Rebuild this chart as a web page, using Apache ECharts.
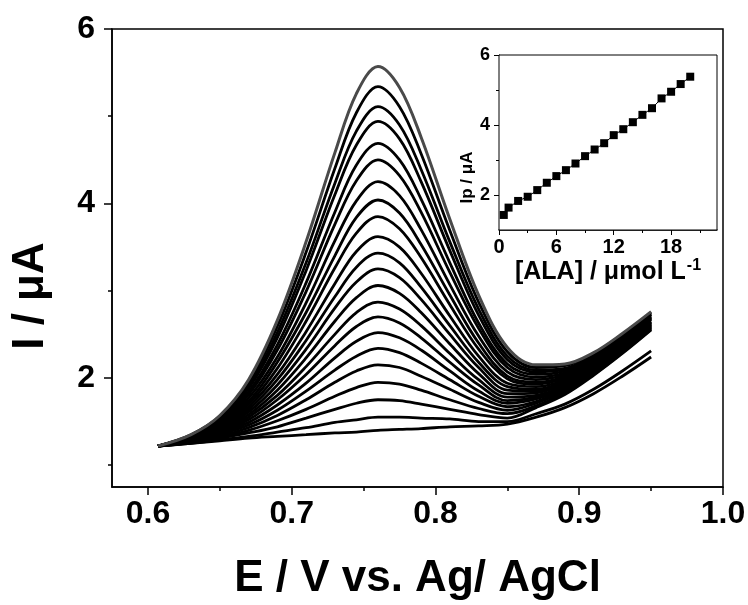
<!DOCTYPE html>
<html><head><meta charset="utf-8">
<script src="https://cdn.jsdelivr.net/npm/echarts@6/dist/echarts.min.js"></script>
<style>html,body{margin:0;padding:0;background:#fff}#c{width:748px;height:605px}</style>
</head><body><div id="c"></div>
<script>
// ---------- data ----------
const potentials = [0.607,0.63,0.65,0.67,0.69,0.71,0.73,0.745,0.76,0.775,0.79,0.81,0.83,0.85,0.87,0.89,0.91,0.93,0.95];
const curve00 = [1.22,1.25,1.28,1.31,1.33,1.35,1.37,1.38,1.40,1.41,1.42,1.44,1.45,1.47,1.55,1.66,1.82,2.02,2.24];
const curve01 = [1.22,1.25,1.29,1.33,1.38,1.43,1.49,1.52,1.55,1.55,1.54,1.53,1.50,1.50,1.59,1.70,1.87,2.08,2.31];
const curve02 = [1.22,1.26,1.31,1.37,1.44,1.54,1.64,1.71,1.75,1.74,1.70,1.64,1.58,1.54,1.66,1.81,2.03,2.28,2.55];
const curve03 = [1.22,1.26,1.32,1.40,1.51,1.64,1.79,1.89,1.95,1.93,1.86,1.75,1.65,1.59,1.68,1.83,2.04,2.29,2.56];
const curve04 = [1.22,1.27,1.33,1.43,1.57,1.75,1.95,2.08,2.15,2.12,2.02,1.87,1.72,1.63,1.71,1.85,2.05,2.31,2.57];
const curve05 = [1.22,1.27,1.35,1.46,1.63,1.85,2.09,2.25,2.34,2.29,2.17,1.98,1.79,1.67,1.73,1.87,2.07,2.32,2.58];
const curve06 = [1.22,1.28,1.36,1.49,1.69,1.94,2.23,2.42,2.52,2.46,2.32,2.08,1.85,1.71,1.76,1.88,2.08,2.33,2.59];
const curve07 = [1.22,1.28,1.37,1.52,1.75,2.04,2.37,2.59,2.70,2.63,2.46,2.18,1.92,1.74,1.78,1.90,2.09,2.34,2.60];
const curve08 = [1.22,1.29,1.38,1.55,1.80,2.13,2.50,2.75,2.87,2.79,2.60,2.28,1.98,1.78,1.80,1.91,2.10,2.35,2.61];
const curve09 = [1.22,1.29,1.40,1.58,1.86,2.23,2.65,2.92,3.06,2.97,2.75,2.39,2.05,1.82,1.83,1.93,2.12,2.36,2.62];
const curve10 = [1.22,1.30,1.41,1.61,1.92,2.33,2.80,3.10,3.25,3.15,2.90,2.50,2.12,1.86,1.85,1.95,2.13,2.37,2.63];
const curve11 = [1.22,1.30,1.42,1.64,1.98,2.43,2.93,3.27,3.43,3.32,3.04,2.60,2.18,1.90,1.87,1.96,2.14,2.38,2.64];
const curve12 = [1.22,1.31,1.44,1.67,2.04,2.53,3.08,3.45,3.62,3.50,3.20,2.71,2.25,1.94,1.90,1.98,2.16,2.39,2.65];
const curve13 = [1.22,1.31,1.45,1.70,2.11,2.65,3.26,3.66,3.85,3.71,3.38,2.84,2.33,1.99,1.93,2.00,2.17,2.41,2.67];
const curve14 = [1.22,1.32,1.47,1.73,2.18,2.75,3.40,3.84,4.04,3.89,3.53,2.95,2.40,2.02,1.95,2.02,2.19,2.42,2.68];
const curve15 = [1.22,1.32,1.48,1.77,2.24,2.86,3.57,4.03,4.25,4.09,3.70,3.07,2.48,2.07,1.98,2.04,2.20,2.43,2.69];
const curve16 = [1.22,1.33,1.50,1.81,2.32,2.99,3.76,4.26,4.50,4.32,3.90,3.21,2.57,2.12,2.01,2.06,2.22,2.45,2.70];
const curve17 = [1.22,1.33,1.51,1.84,2.38,3.09,3.90,4.44,4.69,4.50,4.05,3.32,2.63,2.16,2.04,2.08,2.23,2.46,2.71];
const curve18 = [1.22,1.34,1.53,1.88,2.46,3.23,4.10,4.67,4.94,4.74,4.25,3.46,2.72,2.21,2.07,2.10,2.25,2.47,2.73];
const curve19 = [1.22,1.34,1.54,1.90,2.52,3.32,4.23,4.83,5.11,4.90,4.39,3.56,2.79,2.25,2.09,2.11,2.26,2.48,2.73];
const curve20 = [1.22,1.35,1.56,1.94,2.59,3.44,4.40,5.04,5.34,5.11,4.57,3.69,2.87,2.30,2.12,2.14,2.28,2.50,2.75];
const curve21 = [1.22,1.35,1.57,1.98,2.66,3.56,4.58,5.26,5.57,5.33,4.76,3.82,2.95,2.35,2.15,2.16,2.29,2.51,2.76];
const blackCurves = [curve00,curve01,curve02,curve03,curve04,curve05,curve06,curve07,curve08,curve09,curve10,
                     curve11,curve12,curve13,curve14,curve15,curve16,curve17,curve18,curve19,curve20];
const grayCurve = curve21;

const insetConc = [0.5,1,2,3,4,5,6,7,8,9,10,11,12,13,14,15,16,17,18,19,20];
const insetIp   = [1.43,1.64,1.83,1.95,2.14,2.35,2.54,2.71,2.90,3.11,3.30,3.48,3.71,3.88,4.08,4.29,4.48,4.76,4.95,5.17,5.38];

const xTickLabels = [0.6,0.7,0.8,0.9,1.0];
const xMinorTicks = [0.65,0.75,0.85,0.95];
const yTickLabels = [2,4,6];
const yMinorTicks = [1,3,5];
const insetXTickLabels = [0,6,12,18];
const insetXMinorTicks = [3,9,15,21];
const insetYTickLabels = [2,4,6];
const insetYMinorTicks = [3,5];

// ---------- chart ----------
const FONT = "'Liberation Sans', Arial, Helvetica, sans-serif";
const chart = echarts.init(document.getElementById('c'), null, {renderer:'canvas'});
const pair = (xs, ys) => xs.map((x, i) => [x, ys[i]]);

function axisBase(extra) {
  return Object.assign({
    type: 'value', splitLine: {show: false}, scale: false,
    axisLine: {show: true, onZero: false, lineStyle: {color: '#000', width: 1.5}},
  }, extra);
}

const series = [];
blackCurves.forEach((c, i) => series.push({
  type: 'line', xAxisIndex: 0, yAxisIndex: 0, data: pair(potentials, c),
  smooth: 0.35, showSymbol: false, silent: true, z: 2,
  lineStyle: {color: '#000', width: 2.8}
}));
series.push({
  type: 'line', xAxisIndex: 0, yAxisIndex: 0, data: pair(potentials, grayCurve),
  smooth: 0.35, showSymbol: false, silent: true, z: 3,
  lineStyle: {color: '#4a4a4a', width: 3}
});
series.push({
  type: 'line', xAxisIndex: 2, yAxisIndex: 2, data: pair(insetConc, insetIp),
  symbol: 'rect', symbolSize: 8, showSymbol: true, silent: true, z: 5,
  itemStyle: {color: '#000'}, lineStyle: {color: '#000', width: 1}
});

chart.setOption({
  animation: false,
  backgroundColor: '#fff',
  grid: [
    {left: 112, top: 29, width: 611, height: 458, show: true, borderColor: '#000', borderWidth: 1.5,
     backgroundColor: 'transparent', containLabel: false, outerBoundsMode: 'none'},
    {left: 499, top: 55, width: 218, height: 175, show: true, borderColor: '#000', borderWidth: 1,
     backgroundColor: '#fff', z: 4, containLabel: false, outerBoundsMode: 'none'}
  ],
  xAxis: [
    axisBase({gridIndex: 0, position: 'bottom', min: 0.575, max: 1.0,
      axisTick: {show: true, customValues: xTickLabels, length: 8, lineStyle: {color: '#000', width: 1.5}},
      axisLabel: {customValues: xTickLabels, formatter: v => v.toFixed(1), margin: 11,
        fontSize: 32, fontWeight: 'bold', color: '#000', fontFamily: FONT},
      name: 'E / V vs. Ag/ AgCl', nameLocation: 'middle', nameGap: 70,
      nameTextStyle: {fontSize: 44, fontWeight: 'bold', color: '#000', fontFamily: FONT}}),
    axisBase({gridIndex: 0, position: 'bottom', min: 0.575, max: 1.0,
      axisLine: {show: false},
      axisTick: {show: true, customValues: xMinorTicks, length: 4, lineStyle: {color: '#000', width: 1.5}},
      axisLabel: {show: false}}),
    axisBase({gridIndex: 1, position: 'bottom', min: 0, max: 22.8,
      axisLine: {show: true, onZero: false, lineStyle: {color: '#000', width: 1.5}},
      axisTick: {show: true, customValues: insetXTickLabels, length: 5, lineStyle: {color: '#000', width: 1}},
      axisLabel: {customValues: insetXTickLabels, margin: 7, fontSize: 20, fontWeight: 'bold', color: '#000', fontFamily: FONT},
      name: '{a|[ALA] / \u03bcmol L}{s|-1}', nameLocation: 'middle', nameGap: 7,
      nameTextStyle: {rich: {
        a: {fontSize: 25, fontWeight: 'bold', color: '#000', fontFamily: FONT, lineHeight: 28},
        s: {fontSize: 16, fontWeight: 'bold', color: '#000', fontFamily: FONT, verticalAlign: 'top', lineHeight: 28, padding: [0, 0, 10, 1]}
      }}}),
    axisBase({gridIndex: 1, position: 'bottom', min: 0, max: 22.8,
      axisLine: {show: false},
      axisTick: {show: true, customValues: insetXMinorTicks, length: 3, lineStyle: {color: '#000', width: 1}},
      axisLabel: {show: false}})
  ],
  yAxis: [
    axisBase({gridIndex: 0, position: 'left', min: 0.75, max: 6,
      axisTick: {show: true, customValues: yTickLabels, length: 8, lineStyle: {color: '#000', width: 1.5}},
      axisLabel: {customValues: yTickLabels, margin: 17, fontSize: 32, fontWeight: 'bold', color: '#000', fontFamily: FONT},
      name: 'I / \u03bcA', nameLocation: 'middle', nameGap: 59,
      nameTextStyle: {fontSize: 44, fontWeight: 'bold', color: '#000', fontFamily: FONT, padding: [0, 76, 0, 0]}}),
    axisBase({gridIndex: 0, position: 'left', min: 0.75, max: 6,
      axisLine: {show: false},
      axisTick: {show: true, customValues: yMinorTicks, length: 4, lineStyle: {color: '#000', width: 1.5}},
      axisLabel: {show: false}}),
    axisBase({gridIndex: 1, position: 'left', min: 1, max: 6,
      axisLine: {show: true, onZero: false, lineStyle: {color: '#000', width: 1}},
      axisTick: {show: true, customValues: insetYTickLabels, length: 5, lineStyle: {color: '#000', width: 1}},
      axisLabel: {customValues: insetYTickLabels, margin: 9, fontSize: 18, fontWeight: 'bold', color: '#000', fontFamily: FONT},
      name: 'Ip / \u03bcA', nameLocation: 'middle', nameGap: 10,
      nameTextStyle: {fontSize: 17, fontWeight: 'bold', color: '#000', fontFamily: FONT, padding: [0, 70, 0, 0]}}),
    axisBase({gridIndex: 1, position: 'left', min: 1, max: 6,
      axisLine: {show: false},
      axisTick: {show: true, customValues: insetYMinorTicks, length: 3, lineStyle: {color: '#000', width: 1}},
      axisLabel: {show: false}})
  ],
  series: series
});
</script>
</body></html>
